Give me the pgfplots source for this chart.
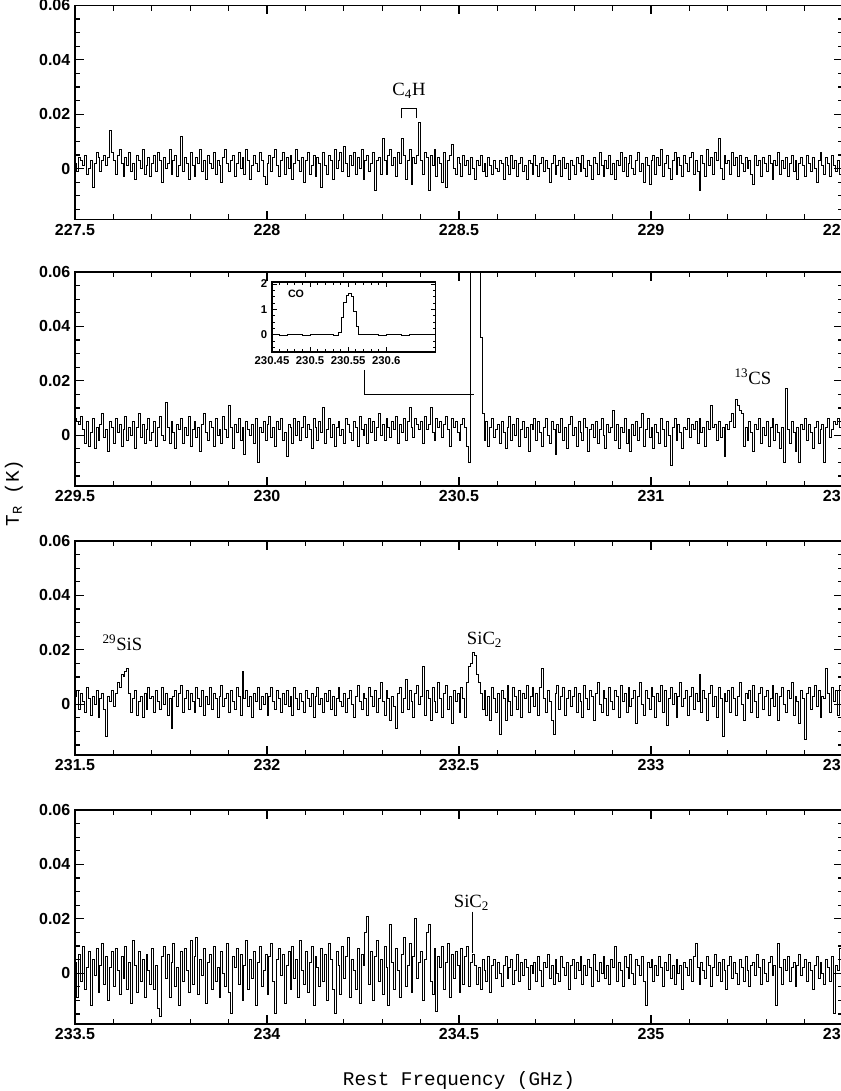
\documentclass[border=0pt]{standalone}
\usepackage{pgfplots}
\pgfplotsset{compat=1.18}
\usepackage{pgfplotstable}
\usepackage{fontspec}
\setmainfont{Liberation Serif}
\newfontfamily\sansfam{Liberation Sans}
\newfontfamily\monofam{Liberation Mono}
\newcommand\annfont{\fontsize{14}{16}\selectfont}

% spectra in mK, channel width 0.005 GHz, starting at the left edge of each panel
\pgfplotstableread[row sep=\\]{T\\
2\\ -1\\ 4\\ 3\\ 1\\ 5\\ -2\\ 0\\ 3\\ -7\\ 2\\ 6\\ 4\\ -1\\ 3\\ 5\\ 1\\ 4\\ 14\\ 6\\
3\\ -2\\ 5\\ 7\\ 2\\ -3\\ 4\\ 1\\ 6\\ -1\\ 2\\ -4\\ 5\\ 3\\ 0\\ 7\\ -2\\ 1\\ 4\\ -3\\
2\\ 5\\ -1\\ 6\\ 3\\ -5\\ 4\\ 0\\ 2\\ 7\\ -2\\ 3\\ 5\\ -3\\ 1\\ 12\\ -1\\ 4\\ 2\\ -4\\
6\\ 1\\ -3\\ 4\\ 2\\ 7\\ -1\\ 3\\ -4\\ 5\\ 2\\ 0\\ 6\\ -2\\ 3\\ 1\\ -5\\ 4\\ 7\\ 2\\
-1\\ 3\\ 5\\ -3\\ 2\\ 6\\ 0\\ 4\\ -2\\ 7\\ 3\\ -4\\ 1\\ 5\\ 2\\ -1\\ 6\\ 3\\ -3\\ -6\\
2\\ 5\\ -1\\ 4\\ 7\\ 1\\ -3\\ 3\\ 6\\ -2\\ 4\\ 0\\ 5\\ -4\\ 2\\ 7\\ 3\\ -1\\ 4\\ -5\\
3\\ 6\\ -2\\ 1\\ 5\\ -3\\ 4\\ 2\\ -7\\ 6\\ 1\\ -2\\ 5\\ 3\\ -4\\ 7\\ 0\\ 3\\ 6\\ -1\\
8\\ 2\\ -3\\ 5\\ 1\\ 6\\ -2\\ 4\\ 0\\ 7\\ -4\\ 3\\ 5\\ -1\\ 2\\ 6\\ -8\\ 3\\ 4\\ -2\\
11\\ 3\\ -2\\ 5\\ 7\\ 1\\ 4\\ -3\\ 6\\ 2\\ 11\\ 5\\ -4\\ 3\\ 7\\ -6\\ 4\\ 2\\ 5\\ 17\\
3\\ -2\\ 6\\ 4\\ -8\\ 5\\ 1\\ 7\\ -3\\ 4\\ 2\\ -5\\ 6\\ -7\\ 3\\ 5\\ 9\\ 0\\ -2\\ 4\\
2\\ -3\\ 5\\ 1\\ 3\\ -2\\ 4\\ 0\\ -4\\ 3\\ 1\\ 5\\ -1\\ 2\\ -3\\ 4\\ 1\\ -2\\ 3\\ 0\\
-1\\ 3\\ 2\\ -4\\ 4\\ 1\\ -2\\ 5\\ 0\\ 3\\ -3\\ 2\\ 4\\ -1\\ 1\\ -4\\ 3\\ 2\\ -2\\ 5\\
1\\ -3\\ 2\\ 4\\ -1\\ 3\\ 0\\ -5\\ 2\\ 5\\ -2\\ 1\\ 3\\ -3\\ 4\\ 0\\ 2\\ -4\\ 3\\ 1\\
-2\\ 4\\ 2\\ -1\\ 5\\ 0\\ -3\\ 3\\ 1\\ -4\\ 4\\ 2\\ -2\\ 6\\ 1\\ -3\\ 3\\ 0\\ 5\\ -2\\
2\\ -4\\ 3\\ 1\\ 6\\ -1\\ 4\\ -3\\ 2\\ 5\\ 0\\ -2\\ 3\\ 6\\ -1\\ 2\\ -5\\ 4\\ 1\\ -6\\
3\\ 5\\ -2\\ 4\\ 1\\ 7\\ -3\\ 2\\ 5\\ 0\\ -4\\ 3\\ 6\\ -2\\ 4\\ 1\\ -3\\ 5\\ 2\\ -1\\
4\\ 6\\ -2\\ 3\\ -1\\ -8\\ 5\\ 2\\ -3\\ 7\\ 1\\ 4\\ -2\\ 6\\ 3\\ 11\\ 0\\ -4\\ 5\\ 2\\
3\\ -2\\ 6\\ 1\\ 4\\ -3\\ 5\\ 2\\ -1\\ 4\\ 0\\ 3\\ -2\\ -6\\ 5\\ 1\\ 3\\ -3\\ 4\\ 2\\
-1\\ 5\\ 2\\ -4\\ 3\\ 1\\ 6\\ -2\\ 3\\ 0\\ 4\\ -3\\ 2\\ 5\\ -1\\ 3\\ -4\\ 2\\ 4\\ 1\\
-3\\ 5\\ 2\\ -1\\ 4\\ 0\\ -5\\ 3\\ 6\\ 1\\ -2\\ 4\\ 2\\ -3\\ 5\\ 1\\ -1\\ 3\\ -2\\ 4\\
2\\
}\panelA

\pgfplotstableread[row sep=\\]{T\\
6\\ 5\\ 4\\ 7\\ 2\\ -3\\ 5\\ -4\\ 1\\ 6\\ -5\\ 3\\ -2\\ 4\\ 8\\ -1\\ 2\\ -6\\ 5\\ 3\\
-3\\ 6\\ 1\\ 4\\ -4\\ 2\\ 7\\ -2\\ 3\\ 0\\ 5\\ -5\\ 3\\ 8\\ -1\\ 4\\ -3\\ 2\\ 6\\ -2\\
1\\ 5\\ -4\\ 3\\ 7\\ 0\\ -2\\ 12\\ 3\\ -3\\ 5\\ 1\\ -5\\ 4\\ 2\\ 6\\ -3\\ 3\\ 0\\ 7\\
-4\\ 2\\ 5\\ -1\\ 3\\ -6\\ 4\\ 8\\ 1\\ -2\\ 5\\ 3\\ -4\\ 6\\ 0\\ 2\\ -3\\ 7\\ 2\\ -1\\
11\\ 3\\ -5\\ 4\\ 1\\ 6\\ -2\\ 3\\ -7\\ 5\\ 2\\ 0\\ 4\\ -3\\ 6\\ -10\\ 3\\ 1\\ 5\\ -2\\
4\\ 7\\ -1\\ 3\\ -4\\ 5\\ 2\\ 6\\ -2\\ 1\\ -8\\ 4\\ 3\\ -3\\ 6\\ 0\\ 5\\ -2\\ 3\\ 7\\
-1\\ 4\\ 2\\ -5\\ 6\\ 3\\ -2\\ 5\\ 1\\ 10\\ -3\\ 2\\ 6\\ -1\\ 4\\ -4\\ 3\\ 5\\ 0\\ 2\\
-3\\ 6\\ 4\\ 1\\ -2\\ 5\\ 3\\ -4\\ 7\\ 2\\ 0\\ 4\\ -3\\ 6\\ 1\\ 5\\ -2\\ 3\\ 8\\ 0\\
4\\ -2\\ 6\\ 3\\ -1\\ 5\\ 2\\ 7\\ -3\\ 4\\ 1\\ 6\\ -2\\ 5\\ 10\\ 3\\ -1\\ 6\\ 4\\ 2\\
5\\ -3\\ 7\\ 2\\ 4\\ 10\\ 1\\ -2\\ 6\\ 3\\ 5\\ -1\\ 4\\ 7\\ 2\\ -4\\ 6\\ 3\\ 5\\ 1\\
-2\\ 4\\ 6\\ 3\\ -4\\ -10\\ 1700\\ 1700\\ 1700\\ 1700\\ 1700\\ 36\\ 8\\ -2\\ 5\\ -4\\ 3\\ 6\\ -1\\ 2\\
4\\ -3\\ 5\\ 1\\ -5\\ 3\\ 7\\ -2\\ 4\\ 0\\ 6\\ -4\\ 2\\ 5\\ -1\\ 3\\ -6\\ 4\\ 2\\ 6\\
-2\\ 5\\ 1\\ -4\\ 3\\ 6\\ 0\\ -3\\ 5\\ 2\\ -7\\ 4\\ 1\\ 6\\ -2\\ 3\\ -5\\ 4\\ 7\\ 0\\
3\\ -4\\ 5\\ 1\\ -2\\ 6\\ 3\\ -6\\ 2\\ 4\\ -1\\ 5\\ -3\\ 2\\ 6\\ 0\\ -5\\ 4\\ 1\\ 3\\
9\\ -2\\ 4\\ -5\\ 3\\ 1\\ 6\\ -3\\ 2\\ -6\\ 4\\ 0\\ 5\\ -2\\ 3\\ 8\\ -4\\ 2\\ 6\\ -1\\
3\\ -5\\ 4\\ 1\\ -3\\ 6\\ 2\\ -4\\ 5\\ 0\\ -11\\ 3\\ 6\\ -2\\ 4\\ 1\\ -5\\ 3\\ 2\\ 6\\
-1\\ 4\\ 2\\ 5\\ -3\\ 6\\ 1\\ 3\\ -4\\ 5\\ 2\\ 11\\ 3\\ 4\\ -2\\ 5\\ -1\\ 3\\ -8\\ 4\\
2\\ 5\\ 8\\ 3\\ 13\\ 11\\ 9\\ 8\\ -4\\ 3\\ -2\\ 5\\ 1\\ -6\\ 4\\ 2\\ 6\\ -3\\ 3\\ 0\\
5\\ -4\\ 3\\ 6\\ -2\\ 4\\ 1\\ -5\\ 3\\ -10\\ 17\\ 2\\ -3\\ 5\\ 1\\ -6\\ 3\\ -10\\ 4\\ 2\\
6\\ -2\\ 4\\ 1\\ -5\\ 3\\ 5\\ -3\\ 2\\ 4\\ -10\\ 3\\ 6\\ -1\\ 2\\ 5\\ 4\\ 6\\ 3\\ 5\\
4\\
}\panelB

\pgfplotstableread[row sep=\\]{T\\
3\\ 5\\ -2\\ 4\\ 1\\ -3\\ 6\\ 2\\ -4\\ 3\\ 0\\ 5\\ -5\\ 2\\ 4\\ -2\\ -12\\ 3\\ 1\\ 5\\
-1\\ 4\\ 8\\ 6\\ 11\\ 10\\ 12\\ 13\\ 4\\ -3\\ 2\\ 5\\ -4\\ 1\\ 3\\ -5\\ 4\\ -2\\ 6\\ 2\\
3\\ -3\\ 5\\ 1\\ -2\\ 6\\ 0\\ 4\\ -4\\ 2\\ -9\\ 3\\ 5\\ -1\\ 4\\ 7\\ -3\\ 2\\ 5\\ -2\\
4\\ 1\\ -3\\ 6\\ 2\\ -1\\ 5\\ -4\\ 3\\ 0\\ 6\\ -2\\ 4\\ 2\\ -5\\ 3\\ 7\\ -1\\ 2\\ 4\\
-3\\ 5\\ 1\\ -2\\ 6\\ 3\\ -4\\ 12\\ 2\\ 5\\ -1\\ 3\\ -5\\ 4\\ 1\\ 6\\ -2\\ 3\\ 0\\ 4\\
-4\\ 3\\ 6\\ 1\\ -2\\ 5\\ 2\\ -3\\ 4\\ 0\\ 5\\ -1\\ 3\\ -4\\ 6\\ 2\\ -2\\ 4\\ 1\\ -3\\
5\\ 2\\ -1\\ 4\\ -5\\ 3\\ 6\\ 0\\ 2\\ -3\\ 4\\ 1\\ 5\\ -2\\ 3\\ -4\\ 2\\ 6\\ 1\\ -1\\
4\\ -3\\ 2\\ 5\\ 0\\ -5\\ 3\\ 7\\ 1\\ -2\\ 4\\ 2\\ -4\\ 6\\ 3\\ -1\\ 5\\ -3\\ 2\\ 8\\
1\\ -4\\ 5\\ 2\\ -6\\ 3\\ -1\\ -9\\ 4\\ 6\\ -3\\ 2\\ 9\\ -2\\ 5\\ 1\\ -5\\ 4\\ 7\\ 0\\
3\\ 14\\ -4\\ 5\\ 2\\ -6\\ 6\\ 1\\ -3\\ 8\\ 2\\ -5\\ 4\\ 7\\ -2\\ 3\\ -7\\ 5\\ 1\\ 4\\
-3\\ 6\\ 2\\ -5\\ 8\\ 14\\ 15\\ 19\\ 18\\ 11\\ 8\\ 4\\ -2\\ 5\\ -4\\ 3\\ -6\\ 6\\ 2\\ -3\\
4\\ -11\\ 5\\ 2\\ -6\\ 7\\ 1\\ -4\\ 6\\ 3\\ -2\\ 5\\ -5\\ 4\\ 2\\ 7\\ -3\\ 3\\ 6\\ -1\\
4\\ -4\\ 6\\ 13\\ 2\\ -3\\ 5\\ 1\\ -6\\ -11\\ 4\\ 7\\ -2\\ 3\\ 6\\ -4\\ 2\\ 5\\ -1\\ 3\\
6\\ -3\\ 4\\ 1\\ -5\\ 7\\ 2\\ -2\\ 5\\ 3\\ -6\\ 4\\ 8\\ 0\\ -3\\ 5\\ 2\\ -4\\ 6\\ 1\\
-2\\ 5\\ 3\\ -5\\ 7\\ 1\\ 4\\ -3\\ 6\\ -1\\ 2\\ 5\\ -7\\ 3\\ 8\\ 0\\ -4\\ 5\\ 2\\ -2\\
6\\ 3\\ -5\\ 4\\ 1\\ 7\\ -3\\ 5\\ -8\\ 2\\ 6\\ 0\\ 4\\ -5\\ 3\\ 8\\ -1\\ 2\\ 5\\ -4\\
3\\ 6\\ -2\\ 4\\ 1\\ 11\\ -3\\ 5\\ 2\\ -6\\ 4\\ 7\\ -1\\ 3\\ -5\\ 6\\ 2\\ -12\\ 4\\ 1\\
5\\ -3\\ 6\\ 2\\ -4\\ 3\\ 8\\ 0\\ -6\\ 4\\ 2\\ 5\\ -3\\ 7\\ 1\\ -5\\ 4\\ 6\\ -2\\ 3\\
5\\ -4\\ 2\\ 7\\ -1\\ 4\\ -6\\ 3\\ 6\\ 0\\ -3\\ 5\\ 2\\ 8\\ -4\\ 3\\ 1\\ -7\\ 5\\ 2\\
-13\\ 4\\ 6\\ -2\\ 3\\ 7\\ -1\\ 5\\ -5\\ 3\\ 2\\ 13\\ 4\\ -3\\ 6\\ 1\\ 5\\ -4\\ 7\\ 2\\
4\\
}\panelC

\pgfplotstableread[row sep=\\]{T\\
4\\ -9\\ 7\\ -3\\ 10\\ -6\\ 2\\ 8\\ -12\\ 5\\ -1\\ 9\\ -7\\ 3\\ 11\\ -4\\ 6\\ -10\\ 2\\ 8\\
-5\\ 9\\ 1\\ -8\\ 6\\ -2\\ 10\\ -6\\ 4\\ -11\\ 12\\ 3\\ -7\\ 8\\ -3\\ 5\\ -9\\ 7\\ 1\\ -4\\
9\\ -6\\ 3\\ -13\\ -16\\ 6\\ 10\\ -2\\ 7\\ -9\\ 4\\ 11\\ -5\\ 2\\ -12\\ 8\\ -3\\ 9\\ 1\\ -7\\
12\\ -4\\ 6\\ 13\\ -8\\ 5\\ -1\\ 9\\ -11\\ 4\\ 7\\ -6\\ 10\\ -3\\ 2\\ -9\\ 8\\ 0\\ -5\\ 11\\
-7\\ -15\\ 6\\ 2\\ 9\\ -4\\ 7\\ -10\\ 3\\ 12\\ -6\\ 5\\ -2\\ 8\\ -12\\ 4\\ 10\\ -5\\ 1\\ 7\\
-8\\ 6\\ 11\\ -3\\ -15\\ 5\\ 9\\ -1\\ 7\\ -11\\ 3\\ 8\\ -6\\ 10\\ -2\\ 5\\ -9\\ 12\\ 1\\ -4\\
8\\ -7\\ 4\\ 10\\ -12\\ 6\\ 2\\ -5\\ 9\\ -3\\ 7\\ -10\\ 11\\ 5\\ -6\\ -15\\ 8\\ 3\\ -8\\ 10\\
-2\\ 6\\ 13\\ -9\\ 5\\ 1\\ -6\\ 9\\ -11\\ 7\\ 3\\ 15\\ 21\\ -4\\ 8\\ -10\\ 6\\ 12\\ -3\\ 5\\
-8\\ 10\\ 2\\ -12\\ 18\\ 4\\ -6\\ 9\\ 1\\ -9\\ 7\\ 13\\ -5\\ 3\\ 11\\ -7\\ 6\\ 20\\ -2\\ 4\\
8\\ -10\\ 5\\ 15\\ 18\\ -3\\ -8\\ 9\\ -14\\ 6\\ 2\\ 10\\ -6\\ 4\\ 11\\ -9\\ 7\\ -2\\ 8\\ 3\\
-7\\ 9\\ -4\\ 6\\ 10\\ -5\\ 4\\ 7\\ 3\\ -4\\ 2\\ -6\\ 5\\ 1\\ -3\\ 6\\ -7\\ 3\\ 5\\ -2\\
4\\ 0\\ -5\\ 3\\ 6\\ -2\\ 2\\ 5\\ -4\\ 1\\ 7\\ -3\\ 4\\ -1\\ 5\\ 2\\ -6\\ 3\\ 0\\ 4\\
-3\\ 6\\ 1\\ -5\\ 4\\ 2\\ 7\\ -2\\ 3\\ -4\\ 5\\ 0\\ -3\\ 6\\ 2\\ -1\\ 4\\ -6\\ 3\\ 5\\
-2\\ 4\\ 1\\ 6\\ -4\\ 3\\ -1\\ 5\\ 2\\ -5\\ 7\\ 1\\ -3\\ 4\\ 0\\ 6\\ -2\\ 3\\ -4\\ 5\\
2\\ 10\\ -3\\ 4\\ 1\\ -5\\ 6\\ 2\\ -2\\ 7\\ 0\\ -4\\ 5\\ 3\\ -1\\ 6\\ -3\\ -12\\ 4\\ 2\\
5\\ -3\\ 3\\ -1\\ 6\\ 2\\ -5\\ 4\\ 1\\ 7\\ -2\\ 3\\ -4\\ 5\\ 0\\ 3\\ -6\\ 4\\ 2\\ -1\\
5\\ -3\\ 6\\ 11\\ 2\\ -4\\ 4\\ 1\\ -2\\ 6\\ 3\\ -5\\ 2\\ 7\\ -1\\ 4\\ -3\\ 5\\ 1\\ -6\\
3\\ 6\\ -2\\ 4\\ 0\\ -4\\ 5\\ 2\\ -3\\ 6\\ 1\\ -5\\ 3\\ 4\\ -1\\ 7\\ 2\\ -4\\ 5\\ 0\\
-3\\ 4\\ 6\\ -1\\ 3\\ -12\\ 11\\ 2\\ -4\\ 5\\ 1\\ 6\\ -3\\ 2\\ 4\\ -5\\ 3\\ 7\\ -1\\ 2\\
5\\ -3\\ 4\\ 1\\ -6\\ 3\\ 6\\ -2\\ 4\\ 0\\ -4\\ 5\\ 2\\ -3\\ 6\\ -15\\ 3\\ 1\\ 9\\ -2\\
3\\
}\panelD

\pgfplotsset{
  panel/.style={
    anchor=north west,
    scale only axis, width=576pt, height=160.5pt,
    xmin=0, xmax=2, ymin=-18.7, ymax=60,
    xtick={0,0.5,1,1.5,2}, minor x tick num=4,
    ytick={0,20,40,60}, yticklabels={0,0.02,0.04,0.06},
    minor ytick={-15,-10,-5,5,10,15,25,30,35,45,50,55},
    tick align=inside, major tick length=6.5pt, minor tick length=4pt,
    axis line style={line width=1.2pt},
    tick style={line width=0.9pt, black},
    ticklabel style={font=\sansfam\bfseries\fontsize{12}{14}\selectfont},
  },
  spec/.style={const plot, black, line width=0.7pt, mark=none},
}

\begin{document}
\begin{tikzpicture}
\useasboundingbox (0,0) rectangle (630pt,-818.25pt);

% Panel 1
\begin{axis}[panel, at={(56.25pt,-4.1pt)}, xticklabels={227.5,228,228.5,229,229.5}]
\addplot[spec] table[x expr=\coordindex*0.005, y=T] {\panelA};
\draw[line width=0.6pt] (axis cs:0.85,18.5) -- (axis cs:0.85,22.2) -- (axis cs:0.888,22.2) -- (axis cs:0.888,18.5);
\node[anchor=base west, inner sep=0pt, font=\annfont] at (axis cs:0.826,26.9) {C\textsubscript{4}H};
\end{axis}

% Panel 2
\begin{axis}[panel, at={(56.25pt,-204pt)}, xticklabels={229.5,230,230.5,231,231.5}]
\addplot[spec] table[x expr=\coordindex*0.005, y=T] {\panelB};
\draw[line width=0.6pt] (axis cs:0.7526,24) -- (axis cs:0.7526,14.9) -- (axis cs:1.039,14.9);
\node[anchor=base west, inner sep=0pt, font=\annfont] at (axis cs:1.717,18.8) {\textsuperscript{13}CS};
\end{axis}

% inset
\begin{axis}[anchor=north west, at={(204pt,-211.5pt)},
  scale only axis, width=122.6pt, height=52.5pt,
  xmin=0, xmax=0.2145, ymin=-0.67, ymax=2.08,
  xtick={0,0.05,0.1,0.15}, xticklabels={230.45,230.5,230.55,230.6}, minor x tick num=4,
  ytick={0,1,2}, yticklabels={0,1,2},
  minor ytick={-0.5,-0.25,0.25,0.5,0.75,1.25,1.5,1.75},
  tick align=inside, major tick length=3.5pt, minor tick length=2pt,
  axis line style={line width=1.1pt},
  tick style={line width=0.7pt, black},
  ticklabel style={font=\sansfam\bfseries\fontsize{8.5}{10}\selectfont},
  axis background/.style={fill=white}]
\addplot[const plot, black, line width=0.5pt, mark=none] coordinates {
(0,0.02) (0.01,0) (0.02,0.03) (0.03,0.01) (0.04,0) (0.05,0.02) (0.06,0.01)
(0.07,0.03) (0.08,0) (0.0873,0.1) (0.0904,0.7) (0.0938,1.27) (0.0974,1.55)
(0.1004,1.65) (0.1036,1.52) (0.107,0.93) (0.1105,0.33) (0.1136,0.03)
(0.12,0.01) (0.13,0.02) (0.14,0) (0.15,0.02) (0.16,0.01) (0.17,0)
(0.18,0.02) (0.19,0.01) (0.2,0.02) (0.2145,0.01)};
\node[font=\sansfam\bfseries\fontsize{8}{9}\selectfont] at (rel axis cs:0.147,0.836) {CO};
\end{axis}

% Panel 3
\begin{axis}[panel, at={(56.25pt,-405.75pt)}, xticklabels={231.5,232,232.5,233,233.5}]
\addplot[spec] table[x expr=\coordindex*0.005, y=T] {\panelC};
\node[anchor=base west, inner sep=0pt, font=\annfont] at (axis cs:0.071,19.6) {\textsuperscript{29}SiS};
\node[anchor=base west, inner sep=0pt, font=\annfont] at (axis cs:1.020,21.8) {SiC\textsubscript{2}};
\end{axis}

% Panel 4
\begin{axis}[panel, at={(56.25pt,-607.5pt)}, xticklabels={233.5,234,234.5,235,235.5}]
\addplot[spec] table[x expr=\coordindex*0.005, y=T] {\panelD};
\draw[line width=0.6pt] (axis cs:1.0354,22.6) -- (axis cs:1.0354,7.5);
\node[anchor=base west, inner sep=0pt, font=\annfont] at (axis cs:0.986,24) {SiC\textsubscript{2}};
\end{axis}

% axis labels
\node[rotate=90, font=\monofam\fontsize{14.5}{16}\selectfont] at (10.5pt,-369.75pt) {T\textsubscript{R} (K)};
\node[anchor=base, font=\monofam\fontsize{14.5}{16}\selectfont] at (344.25pt,-813.75pt) {Rest Frequency (GHz)};
\end{tikzpicture}
\end{document}
